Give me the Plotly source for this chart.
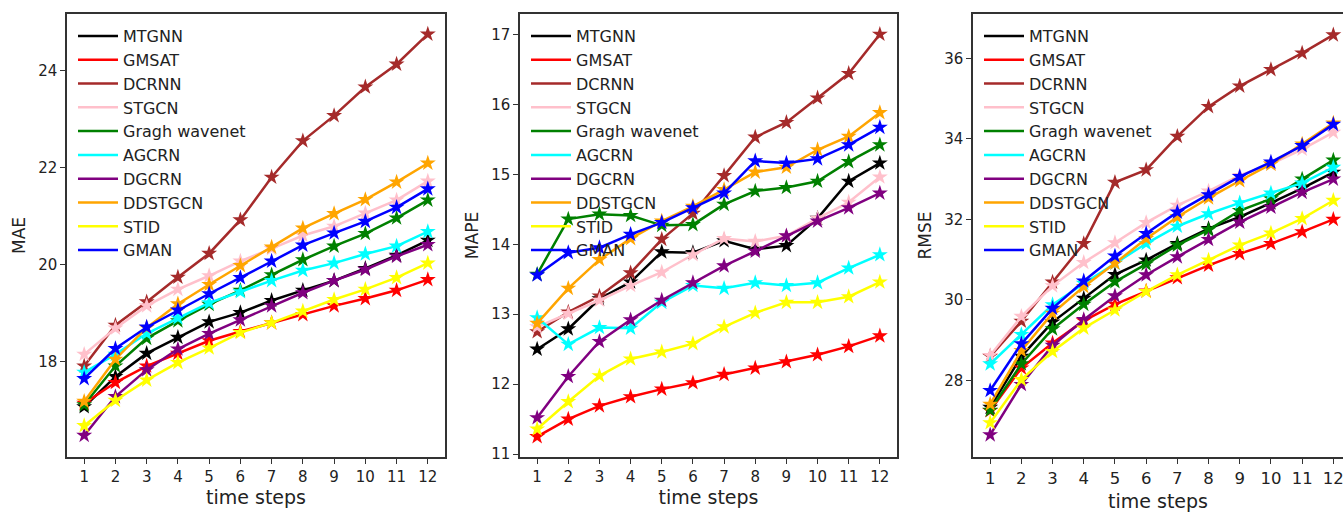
import plotly.graph_objects as go

steps = list(range(1, 13))
models = ["MTGNN", "GMSAT", "DCRNN", "STGCN", "Gragh wavenet", "AGCRN",
          "DGCRN", "DDSTGCN", "STID", "GMAN"]
colors = ["black", "red", "#A52A2A", "#FFC0CB", "#008000", "#00FFFF",
          "#800080", "#FFA500", "#FFFF00", "#0000FF"]

# MAE
mae_MTGNN = [17.07, 17.69, 18.17, 18.50, 18.82, 19.01, 19.26, 19.47, 19.67, 19.92, 20.19, 20.50]
mae_GMSAT = [17.14, 17.57, 17.91, 18.17, 18.43, 18.62, 18.80, 18.97, 19.15, 19.30, 19.47, 19.69]
mae_DCRNN = [17.91, 18.75, 19.23, 19.74, 20.23, 20.92, 21.80, 22.55, 23.07, 23.66, 24.13, 24.75]
mae_STGCN = [18.15, 18.69, 19.15, 19.49, 19.77, 20.07, 20.33, 20.60, 20.79, 21.06, 21.33, 21.72]
mae_GWN = [17.11, 17.91, 18.48, 18.84, 19.18, 19.47, 19.79, 20.10, 20.38, 20.64, 20.96, 21.33]
mae_AGCRN = [17.78, 18.15, 18.58, 18.90, 19.21, 19.44, 19.67, 19.88, 20.03, 20.22, 20.38, 20.68]
mae_DGCRN = [16.48, 17.28, 17.83, 18.26, 18.58, 18.86, 19.15, 19.42, 19.67, 19.90, 20.17, 20.41]
mae_DDSTGCN = [17.18, 18.05, 18.70, 19.19, 19.59, 19.98, 20.36, 20.75, 21.05, 21.34, 21.70, 22.09]
mae_STID = [16.68, 17.20, 17.62, 17.98, 18.28, 18.60, 18.80, 19.04, 19.28, 19.49, 19.73, 20.03]
mae_GMAN = [17.65, 18.27, 18.71, 19.06, 19.40, 19.73, 20.07, 20.40, 20.65, 20.89, 21.18, 21.56]

# MAPE
mape_MTGNN = [12.50, 12.79, 13.22, 13.46, 13.89, 13.88, 14.05, 13.93, 13.98, 14.37, 14.90, 15.16]
mape_GMSAT = [11.25, 11.50, 11.69, 11.82, 11.93, 12.02, 12.14, 12.23, 12.32, 12.42, 12.54, 12.69]
mape_DCRNN = [12.75, 13.03, 13.26, 13.59, 14.07, 14.44, 14.98, 15.53, 15.74, 16.09, 16.44, 17.00]
mape_STGCN = [12.82, 13.01, 13.20, 13.41, 13.60, 13.85, 14.08, 14.04, 14.12, 14.37, 14.60, 14.96]
mape_GWN = [13.57, 14.36, 14.43, 14.41, 14.27, 14.28, 14.57, 14.76, 14.81, 14.90, 15.18, 15.42]
mape_AGCRN = [12.95, 12.57, 12.81, 12.80, 13.17, 13.41, 13.37, 13.45, 13.41, 13.45, 13.66, 13.85]
mape_DGCRN = [11.52, 12.11, 12.61, 12.92, 13.20, 13.45, 13.69, 13.90, 14.12, 14.33, 14.52, 14.73]
mape_DDSTGCN = [12.87, 13.37, 13.78, 14.08, 14.33, 14.54, 14.78, 15.03, 15.10, 15.35, 15.54, 15.88]
mape_STID = [11.36, 11.75, 12.12, 12.36, 12.46, 12.58, 12.82, 13.02, 13.17, 13.17, 13.25, 13.46]
mape_GMAN = [13.56, 13.88, 13.95, 14.14, 14.31, 14.52, 14.73, 15.19, 15.16, 15.22, 15.42, 15.67]

# RMSE
rmse_MTGNN = [27.33, 28.60, 29.45, 30.04, 30.63, 30.99, 31.40, 31.77, 32.06, 32.41, 32.77, 33.17]
rmse_GMSAT = [27.25, 28.31, 28.93, 29.48, 29.89, 30.22, 30.55, 30.86, 31.15, 31.40, 31.69, 32.00]
rmse_DCRNN = [28.60, 29.47, 30.44, 31.40, 32.92, 33.23, 34.06, 34.80, 35.31, 35.72, 36.13, 36.58]
rmse_STGCN = [28.62, 29.59, 30.35, 30.93, 31.42, 31.92, 32.35, 32.70, 33.09, 33.37, 33.74, 34.16]
rmse_GWN = [27.26, 28.41, 29.28, 29.89, 30.45, 30.89, 31.36, 31.74, 32.22, 32.51, 33.00, 33.47]
rmse_AGCRN = [28.41, 29.14, 29.88, 30.41, 30.91, 31.40, 31.83, 32.14, 32.41, 32.65, 32.90, 33.29]
rmse_DGCRN = [26.65, 27.90, 28.87, 29.51, 30.10, 30.62, 31.07, 31.50, 31.93, 32.30, 32.67, 33.00]
rmse_DDSTGCN = [27.41, 28.74, 29.67, 30.33, 30.91, 31.52, 32.06, 32.53, 32.96, 33.37, 33.87, 34.39]
rmse_STID = [26.95, 28.02, 28.72, 29.30, 29.75, 30.21, 30.62, 30.99, 31.36, 31.66, 32.02, 32.47]
rmse_GMAN = [27.75, 28.91, 29.79, 30.47, 31.09, 31.65, 32.18, 32.61, 33.06, 33.42, 33.83, 34.36]

mae = [mae_MTGNN, mae_GMSAT, mae_DCRNN, mae_STGCN, mae_GWN, mae_AGCRN,
       mae_DGCRN, mae_DDSTGCN, mae_STID, mae_GMAN]
mape = [mape_MTGNN, mape_GMSAT, mape_DCRNN, mape_STGCN, mape_GWN, mape_AGCRN,
        mape_DGCRN, mape_DDSTGCN, mape_STID, mape_GMAN]
rmse = [rmse_MTGNN, rmse_GMSAT, rmse_DCRNN, rmse_STGCN, rmse_GWN, rmse_AGCRN,
        rmse_DGCRN, rmse_DDSTGCN, rmse_STID, rmse_GMAN]

metric_names = ["MAE", "MAPE", "RMSE"]
y_ticks = [[18, 20, 22, 24], [11, 12, 13, 14, 15, 16, 17], [28, 30, 32, 34, 36]]

W, H = 1343, 512
FONT = "DejaVu Sans"
AX = "#333333"
TXT = "#222222"

fig = go.Figure()
panels = [mae, mape, rmse]
for p, data in enumerate(panels):
    sfx = "" if p == 0 else str(p + 1)
    leg = "legend" if p == 0 else f"legend{p + 1}"
    for name, col, vals in zip(models, colors, data):
        fig.add_trace(go.Scatter(
            x=steps, y=vals, mode="lines", name=name,
            line=dict(color=col, width=2.5),
            xaxis="x" + sfx, yaxis="y" + sfx,
            legend=leg, legendgroup=f"{p}-{name}", showlegend=True,
            hoverinfo="skip"))
        fig.add_trace(go.Scatter(
            x=steps, y=vals, mode="markers", name=name,
            marker=dict(symbol="star", size=12, color=col, line=dict(width=0)),
            xaxis="x" + sfx, yaxis="y" + sfx,
            legendgroup=f"{p}-{name}", showlegend=False))

x_dom = [(67, 445), (520, 897), (973, 1343)]
y_dom = [(H - 457) / H, (H - 14) / H]
y_rng = [[16.035, 25.165], [10.96, 17.29], [26.1, 37.1]]
x_rng = [[0.45, 12.55], [0.45, 12.55], [0.45, 12.31]]
xtick_size = [15, 15, 16.5]
xtitle_standoff = [6, 6, 9]

layout = dict(
    width=W, height=H,
    margin=dict(l=0, r=0, t=0, b=0),
    paper_bgcolor="white", plot_bgcolor="white",
    font=dict(family=FONT, color=TXT),
    showlegend=True,
)
for p in range(3):
    sfx = "" if p == 0 else str(p + 1)
    layout["xaxis" + sfx] = dict(
        domain=[x_dom[p][0] / W, x_dom[p][1] / W], range=x_rng[p],
        anchor="y" + sfx, tickmode="array", tickvals=steps,
        ticktext=[str(s) for s in steps], ticklabeloverflow="allow",
        showgrid=False, zeroline=False, showline=True, linecolor=AX, linewidth=1.5,
        mirror=True, ticks="outside", ticklen=5, tickwidth=1.2, tickcolor=AX,
        tickfont=dict(size=xtick_size[p], family=FONT, color=TXT),
        title=dict(text="time steps", font=dict(size=19, family=FONT, color=TXT),
                   standoff=xtitle_standoff[p]),
        automargin=False, fixedrange=True)
    layout["yaxis" + sfx] = dict(
        domain=y_dom, range=y_rng[p], anchor="x" + sfx,
        tickmode="array", tickvals=y_ticks[p], ticktext=[str(t) for t in y_ticks[p]],
        ticklabeloverflow="allow",
        showgrid=False, zeroline=False, showline=True, linecolor=AX, linewidth=1.5,
        mirror=(p < 2), ticks="outside", ticklen=5, tickwidth=1.2, tickcolor=AX,
        tickfont=dict(size=15, family=FONT, color=TXT),
        title=dict(text=metric_names[p], font=dict(size=17, family=FONT, color=TXT), standoff=8),
        automargin=False, fixedrange=True)
    leg = "legend" if p == 0 else f"legend{p + 1}"
    layout[leg] = dict(
        x=(x_dom[p][0] + 6) / W, y=1 - 19 / H, xanchor="left", yanchor="top",
        bgcolor="rgba(0,0,0,0)", borderwidth=0, itemwidth=40,
        tracegroupgap=0, font=dict(size=16, family=FONT, color=TXT))

fig.update_layout(**layout)
fig.write_html("out.html", config={"displayModeBar": False},
               post_script="document.body.style.margin='0';document.body.style.padding='0';")
